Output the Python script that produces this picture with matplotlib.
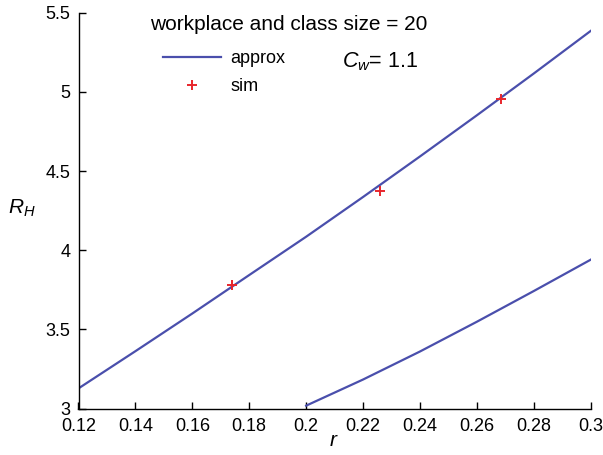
import matplotlib
matplotlib.use("Agg")
import matplotlib.pyplot as plt

plt.rcParams['font.family'] = ['Liberation Sans', 'DejaVu Sans']
plt.rcParams['mathtext.fontset'] = 'custom'
plt.rcParams['mathtext.rm'] = 'Liberation Sans'
plt.rcParams['mathtext.it'] = 'Liberation Sans:italic'

# upper approx curve
r_upper = [0.12, 0.14, 0.16, 0.18, 0.20, 0.22, 0.24, 0.26, 0.28, 0.30]
rh_upper = [3.127, 3.362, 3.600, 3.843, 4.085, 4.336, 4.592, 4.852, 5.116, 5.385]
# lower approx curve
r_lower = [0.20, 0.22, 0.24, 0.26, 0.28, 0.30]
rh_lower = [3.018, 3.183, 3.360, 3.548, 3.742, 3.940]
# simulation points
r_sim = [0.174, 0.226, 0.2685]
rh_sim = [3.781, 4.375, 4.955]

xticks = [0.12, 0.14, 0.16, 0.18, 0.2, 0.22, 0.24, 0.26, 0.28, 0.3]
xticklabels = ['0.12', '0.14', '0.16', '0.18', '0.2', '0.22', '0.24', '0.26', '0.28', '0.3']
yticks = [3, 3.5, 4, 4.5, 5, 5.5]
yticklabels = ['3', '3.5', '4', '4.5', '5', '5.5']

line_color = '#4a4fac'
sim_color = '#e8262c'

W, H = 603, 455
fig = plt.figure(figsize=(W / 100, H / 100), dpi=100)
ax = fig.add_axes([78.5 / W, 1 - 408.5 / H, (590.7 - 78.5) / W, (408.5 - 12.7) / H])

ax.plot(r_upper, rh_upper, color=line_color, lw=1.6, label='approx')
ax.plot(r_lower, rh_lower, color=line_color, lw=1.6)
ax.plot(r_sim, rh_sim, '+', color=sim_color, ms=7.5, mew=1.4, label='sim')

ax.set_xlim(0.12, 0.3)
ax.set_ylim(3, 5.5)
ax.set_xticks(xticks)
ax.set_xticklabels(xticklabels)
ax.set_yticks(yticks)
ax.set_yticklabels(yticklabels)
ax.tick_params(direction='in', length=5, width=1, labelsize=13)
ax.tick_params(axis='x', pad=7)
ax.tick_params(axis='y', pad=6)
for s in ['top', 'right']:
    ax.spines[s].set_visible(False)
for s in ['left', 'bottom']:
    ax.spines[s].set_linewidth(1.0)

fig.text(333 / W, 1 - 441 / H, 'r', fontsize=15, style='italic', ha='center', va='center')
fig.text(22 / W, 1 - 208 / H, '$R_H$', fontsize=15, ha='center', va='center')

fig.text(289 / W, 1 - 24.5 / H, 'workplace and class size = 20', fontsize=15,
         ha='center', va='center')

leg = ax.legend(loc='upper left', bbox_to_anchor=(163 / W, 1 - 50 / H),
                bbox_transform=fig.transFigure, frameon=False,
                fontsize=13, handlelength=3.2, handletextpad=0.55,
                labelspacing=0.6, borderpad=0, borderaxespad=0)

fig.text(341.5 / W, 1 - 67 / H, r'$C_w$= 1.1', fontsize=15.5, va='baseline')

fig.savefig('out.png', dpi=100)
